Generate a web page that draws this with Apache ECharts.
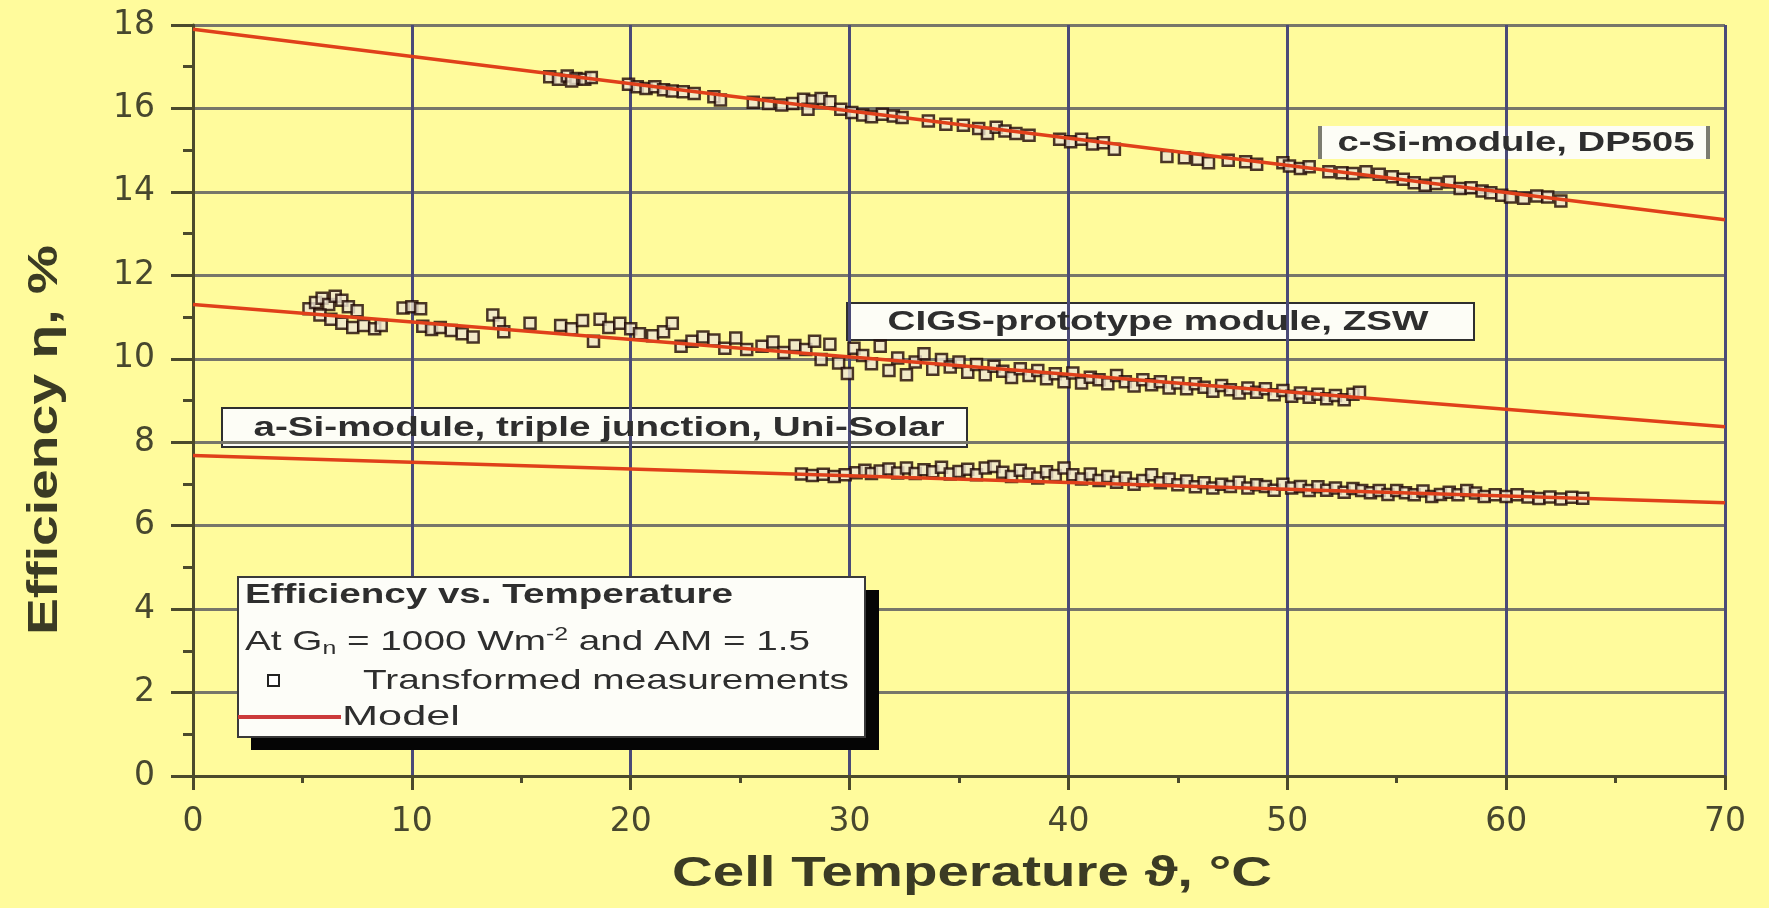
<!DOCTYPE html>
<html>
<head>
<meta charset="utf-8">
<script src="https://cdn.jsdelivr.net/npm/echarts@6/dist/echarts.min.js"></script>
<style>
  html, body { margin: 0; padding: 0; background: #fffb9c; }
  #chart { width: 1769px; height: 908px; }
</style>
</head>
<body>
<div id="chart"></div>
<script>
// Temperature ticks / model line end points
const modelT = [0, 70];
const cSiModel = [17.9, 13.33];
const cigsModel = [11.3, 8.37];
const aSiModel = [7.68, 6.55];

// c-Si module, DP505 (transformed measurements)
const cSiT = [16.3,16.7,17.1,17.5,17.9,18.2,17.3,19.9,20.3,20.7,21.1,21.5,21.9,22.4,22.9,23.8,24.1,
  25.6,26.3,26.9,27.4,27.9,28.3,28.7,29.1,28.1,29.6,30.1,30.6,31.0,31.5,32.0,32.4,
  33.6,34.4,35.2,35.9,36.3,36.7,37.1,37.6,38.2,39.6,40.1,40.6,41.1,41.6,42.1,
  44.5,45.3,45.9,46.4,47.3,48.1,48.6,49.8,50.1,50.6,51.0,51.9,52.5,53.0,53.6,54.2,54.8,55.3,
  55.8,56.3,56.8,57.4,57.9,58.4,58.9,59.3,59.8,60.2,60.8,61.4,61.9,62.5];
const cSiEff = [16.76,16.70,16.78,16.72,16.70,16.74,16.66,16.58,16.52,16.48,16.52,16.45,16.42,16.40,16.36,16.28,16.20,
  16.15,16.12,16.08,16.12,16.22,16.18,16.24,16.16,15.98,15.98,15.90,15.84,15.80,15.86,15.82,15.78,
  15.70,15.62,15.60,15.52,15.40,15.55,15.46,15.40,15.36,15.26,15.20,15.26,15.15,15.18,15.02,
  14.85,14.82,14.78,14.70,14.76,14.72,14.66,14.70,14.62,14.56,14.60,14.48,14.46,14.44,14.48,14.42,14.36,14.30,
  14.22,14.16,14.20,14.24,14.08,14.10,14.02,13.98,13.92,13.88,13.85,13.90,13.88,13.78];

// CIGS prototype module, ZSW
const cigsT = [5.3,5.6,5.9,6.2,6.5,6.8,7.1,5.8,6.3,6.8,7.3,7.8,8.3,7.5,8.6,
  9.6,10.0,10.4,10.5,10.9,11.3,11.8,12.3,12.8,13.7,14.0,14.2,15.4,
  16.8,17.3,17.8,18.3,18.6,19.0,19.5,20.0,20.4,21.0,21.5,21.9,22.3,22.8,23.3,23.8,24.3,24.8,25.3,
  26.0,26.5,27.0,27.5,28.0,28.4,28.7,29.1,29.5,29.9,30.2,30.6,
  31.0,31.4,31.8,32.2,32.6,33.0,33.4,33.8,34.2,34.6,35.0,35.4,35.8,36.2,36.6,37.0,37.4,37.8,38.2,38.6,
  39.0,39.4,39.8,40.2,40.6,41.0,41.4,41.8,42.2,42.6,43.0,43.4,43.8,44.2,44.6,45.0,45.4,45.8,46.2,46.6,
  47.0,47.4,47.8,48.2,48.6,49.0,49.4,49.8,50.2,50.6,51.0,51.4,51.8,52.2,52.6,53.0,53.3];
const cigsEff = [11.20,11.35,11.45,11.30,11.50,11.40,11.25,11.05,10.95,10.85,10.75,10.80,10.72,11.15,10.80,
  11.22,11.25,11.20,10.78,10.70,10.75,10.68,10.60,10.52,11.05,10.85,10.65,10.85,
  10.80,10.72,10.92,10.42,10.95,10.75,10.85,10.72,10.60,10.55,10.65,10.85,10.30,10.42,10.52,10.45,10.25,10.50,10.22,
  10.30,10.40,10.15,10.32,10.22,10.42,9.98,10.35,9.90,9.65,10.25,10.08,
  9.88,10.30,9.72,10.02,9.62,9.92,10.12,9.75,9.98,9.80,9.92,9.68,9.86,9.62,9.82,9.70,9.55,9.76,9.60,9.72,
  9.52,9.64,9.45,9.66,9.42,9.56,9.50,9.40,9.60,9.45,9.35,9.50,9.38,9.45,9.30,9.42,9.28,9.40,9.32,9.22,
  9.36,9.26,9.18,9.30,9.20,9.28,9.14,9.24,9.10,9.18,9.08,9.15,9.04,9.12,9.02,9.15,9.20];

// a-Si module, triple junction, Uni-Solar
const aSiT = [27.8,28.3,28.8,29.3,29.8,30.3,30.7,31.0,31.4,31.8,32.2,32.6,33.0,33.4,33.8,34.2,34.6,35.0,35.4,35.8,
  36.2,36.6,37.0,37.4,37.8,38.2,38.6,39.0,39.4,39.8,40.2,40.6,41.0,41.4,41.8,42.2,42.6,43.0,43.4,43.8,
  44.2,44.6,45.0,45.4,45.8,46.2,46.6,47.0,47.4,47.8,48.2,48.6,49.0,49.4,49.8,50.2,50.6,51.0,51.4,51.8,
  52.2,52.6,53.0,53.4,53.8,54.2,54.6,55.0,55.4,55.8,56.2,56.6,57.0,57.4,57.8,58.2,58.6,59.0,59.5,60.0,
  60.5,61.0,61.5,62.0,62.5,63.0,63.5];
const aSiEff = [7.24,7.20,7.23,7.18,7.22,7.27,7.33,7.25,7.31,7.36,7.26,7.38,7.25,7.34,7.29,7.40,7.24,7.30,7.35,7.22,
  7.38,7.42,7.28,7.18,7.33,7.24,7.14,7.29,7.20,7.38,7.22,7.12,7.24,7.08,7.18,7.04,7.14,6.99,7.08,7.22,
  7.03,7.12,6.98,7.07,6.93,7.03,6.90,6.99,6.94,7.04,6.90,6.98,6.94,6.85,6.99,6.90,6.94,6.84,6.93,6.85,
  6.90,6.80,6.89,6.84,6.79,6.84,6.75,6.84,6.79,6.74,6.83,6.70,6.75,6.80,6.74,6.84,6.78,6.70,6.74,6.70,
  6.74,6.69,6.65,6.69,6.64,6.68,6.66];

const yTicks = ['0', '2', '4', '6', '8', '10', '12', '14', '16', '18'];

const pairs = (xs, ys) => xs.map((x, i) => [x, ys[i]]);

// stretch a text horizontally so it spans a given width
const mctx = document.createElement('canvas').getContext('2d');
function stretch(text, font, width) {
  mctx.font = font;
  return width / mctx.measureText(text).width;
}

const FONT = '"Liberation Sans", Arial, sans-serif';
const axisCol = '#4b4a2c';
const textCol = '#2e2e2e';

const chart = echarts.init(document.getElementById('chart'));

const measSeries = (data) => ({
  type: 'scatter',
  data: data,
  symbol: 'rect',
  symbolSize: 11,
  z: 2,
  itemStyle: { color: '#efe6d2', borderColor: '#1e0603', borderWidth: 2.5 }
});
const modelSeries = (vals) => ({
  type: 'line',
  data: pairs(modelT, vals),
  showSymbol: false,
  z: 3,
  lineStyle: { color: '#e0401a', width: 3.5 }
});

function labelBox(x, y, w, h, withBorder) {
  const kids = [{
    type: 'rect',
    shape: { x: x, y: y, width: w, height: h },
    style: withBorder ? { fill: '#fdfdf6', stroke: '#2f2f2f', lineWidth: 2 } : { fill: '#fdfdf6' }
  }];
  if (!withBorder) {
    kids.push({ type: 'rect', shape: { x: x, y: y, width: 4, height: h }, style: { fill: '#7c7c70' } });
    kids.push({ type: 'rect', shape: { x: x + w - 4, y: y, width: 4, height: h }, style: { fill: '#7c7c70' } });
  }
  return kids;
}

const cSiLabel = 'c-Si-module, DP505';
const cigsLabel = 'CIGS-prototype module, ZSW';
const aSiLabel = 'a-Si-module, triple junction, Uni-Solar';
const boxFont = 'bold 28px ' + FONT;

const leg1 = 'Efficiency vs. Temperature';
const leg3 = 'Transformed measurements';
const leg4 = 'Model';
const legFont = '28px ' + FONT;

const xTitle = 'Cell Temperature \u03d1, \u00b0C';
const yTitle = 'Efficiency \u03b7, %';
const titleFont = 'bold 42px ' + FONT;

const graphics = [
  // series labels
  ...labelBox(1318, 126, 392, 33, false),
  { type: 'text', x: 1516, y: 143, scaleX: stretch(cSiLabel, boxFont, 357), z: 10,
    style: { text: cSiLabel, font: boxFont, fill: textCol, align: 'center', verticalAlign: 'middle' } },
  ...labelBox(847, 303, 627, 37, true),
  { type: 'text', x: 1158, y: 322, scaleX: stretch(cigsLabel, boxFont, 541), z: 10,
    style: { text: cigsLabel, font: boxFont, fill: textCol, align: 'center', verticalAlign: 'middle' } },
  ...labelBox(222, 408, 745, 39, true),
  { type: 'text', x: 599, y: 428, scaleX: stretch(aSiLabel, boxFont, 691), z: 10,
    style: { text: aSiLabel, font: boxFont, fill: textCol, align: 'center', verticalAlign: 'middle' } },

  // legend panel with drop shadow
  { type: 'rect', shape: { x: 251, y: 590, width: 628, height: 160 }, style: { fill: '#050505' }, z: 5 },
  { type: 'rect', shape: { x: 238, y: 577, width: 627, height: 160 }, style: { fill: '#fdfdf8', stroke: '#3a3a3a', lineWidth: 2 }, z: 6 },
  { type: 'text', x: 245, y: 596, scaleX: stretch(leg1, 'bold 27px ' + FONT, 488), z: 7,
    style: { text: leg1, font: 'bold 27px ' + FONT, fill: textCol, verticalAlign: 'middle' } },
  { type: 'text', x: 245, y: 642, scaleX: stretch('At Gn = 1000 Wm-2 and AM = 1.5', legFont, 585), z: 7,
    style: {
      text: 'At G{sub|n} = 1000 Wm{sup|-2} and AM = 1.5',
      font: legFont, fill: textCol, verticalAlign: 'middle',
      rich: {
        sub: { fontSize: 18, fontFamily: FONT, fill: textCol, padding: [14, 0, 0, 0] },
        sup: { fontSize: 18, fontFamily: FONT, fill: textCol, padding: [0, 0, 14, 0] }
      }
    } },
  { type: 'rect', shape: { x: 268, y: 675, width: 11, height: 11 }, style: { fill: '#ffffff', stroke: '#222', lineWidth: 2 }, z: 7 },
  { type: 'text', x: 363, y: 681, scaleX: stretch(leg3, legFont, 486), z: 7,
    style: { text: leg3, font: legFont, fill: textCol, verticalAlign: 'middle' } },
  { type: 'line', shape: { x1: 238, y1: 717, x2: 341, y2: 717 }, style: { stroke: '#cc3b3b', lineWidth: 4 }, z: 7 },
  { type: 'text', x: 342, y: 717, scaleX: stretch(leg4, legFont, 118), z: 7,
    style: { text: leg4, font: legFont, fill: textCol, verticalAlign: 'middle' } },

  // axis titles
  { type: 'text', x: 972, y: 874, scaleX: stretch(xTitle, titleFont, 600),
    style: { text: xTitle, font: titleFont, fill: '#3b3b24', align: 'center', verticalAlign: 'middle' } },
  { type: 'text', x: 45, y: 440, rotation: Math.PI / 2, scaleX: stretch(yTitle, titleFont, 390),
    style: { text: yTitle, font: titleFont, fill: '#3b3b24', align: 'center', verticalAlign: 'middle' } }
];

chart.setOption({
  backgroundColor: '#fffb9c',
  animation: false,
  grid: { left: 193, right: 44, top: 25, bottom: 132 },
  xAxis: {
    type: 'value', min: 0, max: 70, interval: 10,
    axisLine: { show: true, onZero: false, lineStyle: { color: axisCol, width: 3 } },
    axisTick: { show: true, length: 14, lineStyle: { color: axisCol, width: 3 } },
    minorTick: { show: true, splitNumber: 2, length: 7, lineStyle: { color: axisCol, width: 3 } },
    axisLabel: { margin: 30, fontSize: 33, fontFamily: '"DejaVu Sans", sans-serif', color: '#47472e' },
    splitLine: { show: true, lineStyle: { color: '#4a4a78', width: 3 } }
  },
  yAxis: {
    type: 'value', min: 0, max: 18, interval: 2,
    axisLine: { show: true, onZero: false, lineStyle: { color: axisCol, width: 3 } },
    axisTick: { show: true, length: 22, lineStyle: { color: axisCol, width: 3 } },
    minorTick: { show: true, splitNumber: 2, length: 10, lineStyle: { color: axisCol, width: 3 } },
    axisLabel: {
      margin: 38, fontSize: 33, fontFamily: '"DejaVu Sans", sans-serif', color: '#47472e',
      formatter: (v) => yTicks[Math.round(v / 2)]
    },
    splitLine: { show: true, lineStyle: { color: '#77766a', width: 3 } }
  },
  series: [
    measSeries(pairs(cSiT, cSiEff)),
    measSeries(pairs(cigsT, cigsEff)),
    measSeries(pairs(aSiT, aSiEff)),
    modelSeries(cSiModel),
    modelSeries(cigsModel),
    modelSeries(aSiModel)
  ],
  graphic: graphics
});
</script>
</body>
</html>
